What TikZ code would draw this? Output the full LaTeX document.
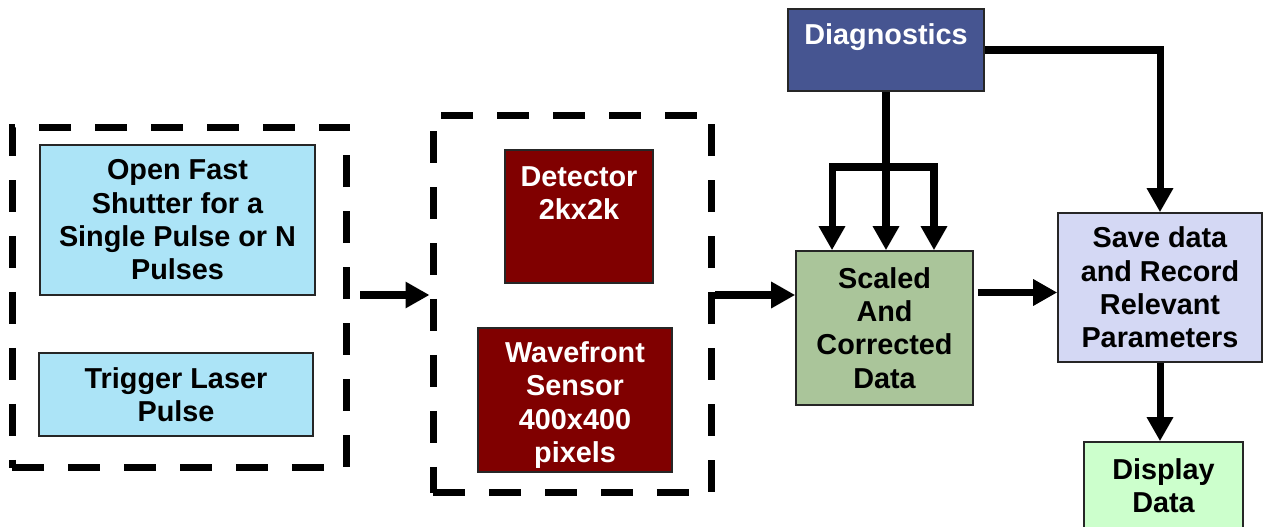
\documentclass[tikz,border=0pt]{standalone}
\usepackage{fontspec}
\setmainfont{Liberation Sans}
\usetikzlibrary{positioning, arrows.meta}
\definecolor{shuttercyan}{RGB}{172,228,247}
\definecolor{detred}{RGB}{128,0,0}
\definecolor{diagnavy}{RGB}{70,85,145}
\definecolor{scalegreen}{RGB}{170,197,154}
\definecolor{savelilac}{RGB}{212,216,244}
\definecolor{showgreen}{RGB}{204,255,204}

\begin{document}
\begin{tikzpicture}[x=0.02cm, y=-0.02cm,
    every node/.style={font=\fontsize{16.4}{19}\selectfont\bfseries},
    box/.style={draw=black!85, line width=0.9pt, align=center, inner sep=0pt},
    grp/.style={draw, line width=4pt, dash pattern=on 0.64cm off 0.48cm},
    arr/.style={line width=4pt, -{Triangle[length=0.48cm,width=0.5cm]}}]
	\useasboundingbox (0,0) rectangle (1264,527);
	% dashed groups
	\node[grp, minimum width=6.7cm, minimum height=6.82cm] (trigbox) at (179.5,297.5) {};
	\node[grp, minimum width=5.58cm, minimum height=7.56cm] (sensbox) at (572.5,304) {};
	% boxes
	\node[box, fill=shuttercyan, minimum width=5.5cm, minimum height=3cm] (shutter) at (177.5,220) {Open Fast\\Shutter for a\\Single Pulse or N\\Pulses};
	\node[box, fill=shuttercyan, minimum width=5.48cm, minimum height=1.66cm] (trigger) at (176,394.5) {Trigger Laser\\Pulse};
	\node[box, fill=detred, minimum width=2.96cm, minimum height=2.66cm,
	      label={[text=white, align=center, anchor=north, yshift=-0.22cm]north:Detector\\2kx2k}] (det) at (579,216.5) {};
	\node[box, fill=detred, minimum width=3.88cm, minimum height=2.88cm,
	      label={[text=white, align=center, yshift=-0.1cm]center:Wavefront\\Sensor\\400x400\\pixels}] (wave) at (575,400) {};
	\node[box, fill=diagnavy, minimum width=3.92cm, minimum height=1.64cm,
	      label={[text=white, anchor=north, yshift=-0.18cm]north:Diagnostics}] (diag) at (886,50) {};
	\node[box, fill=scalegreen, minimum width=3.54cm, minimum height=3.08cm] (scaled) at (884.5,328) {Scaled\\And\\Corrected\\Data};
	\node[box, fill=savelilac, minimum width=4.08cm, minimum height=2.98cm] (save) at (1160,287.5) {Save data\\and Record\\Relevant\\Parameters};
	\node[box, fill=showgreen, minimum width=3.18cm, minimum height=1.76cm] (show) at (1163.5,486) {Display\\Data};
	% connectors
	\coordinate (fork) at (886,167);
	\coordinate (leftout) at ([xshift=0.2cm,yshift=0.05cm]trigbox.east);
	\coordinate (midout) at ([yshift=0.18cm]sensbox.east);
	\coordinate (savein) at ([yshift=-0.1cm]save.west);
	\draw[arr] (leftout) -- (sensbox.west |- leftout);
	\draw[arr] (midout) -- (scaled.west |- midout);
	\draw[arr] ([xshift=0.08cm]scaled.east |- savein) -- (savein);
	\draw[arr] (diag.south) -- (diag.south |- scaled.north);
	\draw[arr, line join=miter] (fork) -| ([xshift=-1.05cm]scaled.north);
	\draw[arr, line join=miter] (fork) -| ([xshift=0.99cm]scaled.north);
	\draw[arr, line join=miter] (diag.east) -| (save.north);
	\draw[arr] (save.south) -- (save.south |- show.north);
\end{tikzpicture}
\end{document}
